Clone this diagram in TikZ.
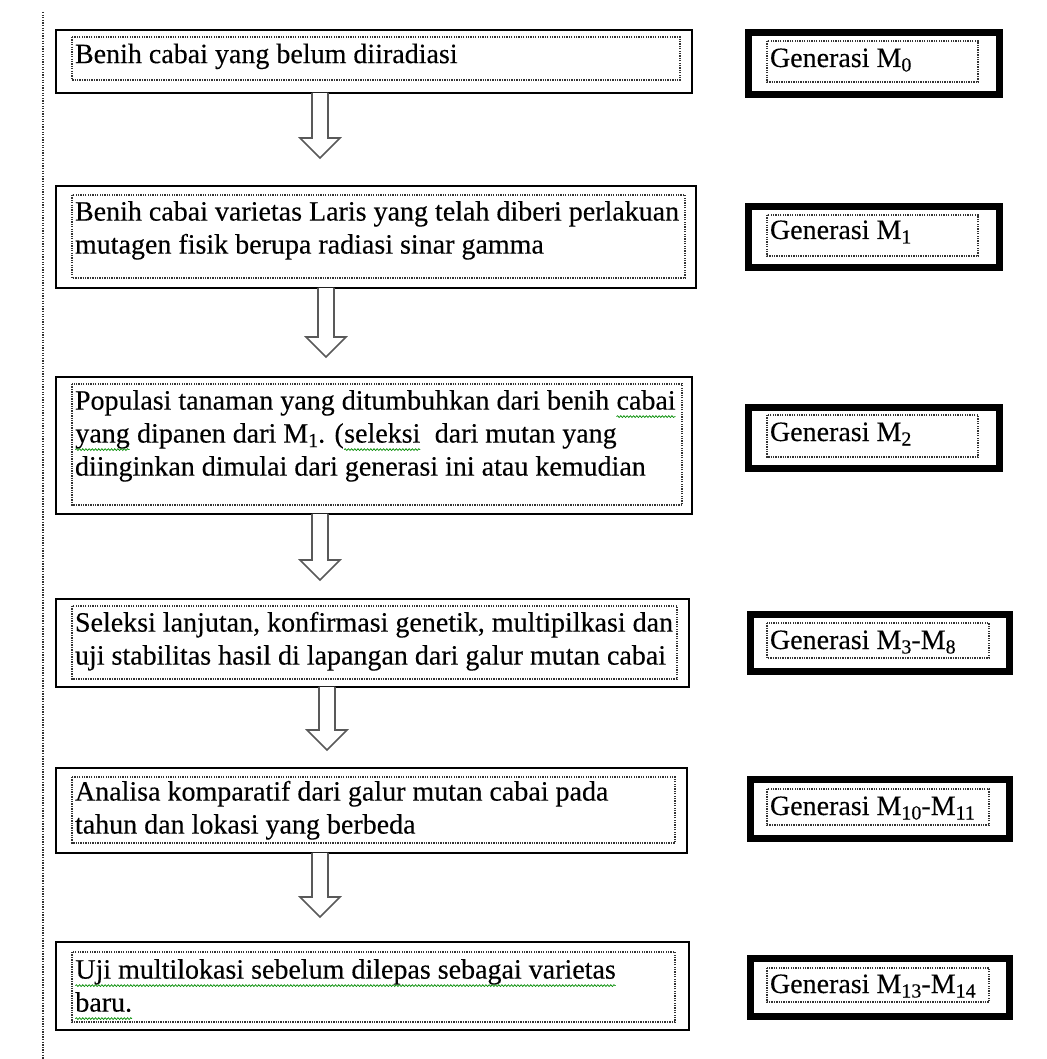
\documentclass[tikz,border=0pt]{standalone}
\usepackage{fontspec}
\setmainfont{Liberation Serif}[FakeBold=0.25]
\usetikzlibrary{calc,shadows,decorations.pathmorphing}

\newcommand\Msb[1]{M\raisebox{-4.5pt}{\fontsize{20}{20}\selectfont #1}}
\newcommand\gw[1]{\tikz[baseline=(w.base)]{\node[inner sep=0pt,outer sep=0pt](w){#1};
  \draw[green!55!black,line width=0.7pt,decorate,decoration={snake,amplitude=0.9pt,segment length=3.2pt}]
  ([yshift=-7pt]w.base west) -- ([yshift=-7pt]w.base east);}}

\tikzset{
  mainbox/.style={draw=black, line width=2.4pt, fill=white, inner sep=0pt, outer sep=0pt,
    drop shadow={shadow xshift=1.5pt, shadow yshift=-1.5pt, fill=gray!70, opacity=0.6}},
  genbox/.style={draw=black, line width=7pt, fill=white, inner sep=0pt, outer sep=0pt,
    drop shadow={shadow xshift=3pt, shadow yshift=-3pt, fill=gray!70, opacity=0.6}},
  dotbox/.style={draw=black!80, line width=1.3pt, dash pattern=on 1.3pt off 1.1pt},
  txt/.style={anchor=north west, inner sep=0pt, outer sep=0pt, align=left,
    font=\fontsize{28}{33}\selectfont},
  gtxt/.style={anchor=base west, inner sep=0pt, outer sep=0pt,
    font=\fontsize{28}{33}\selectfont},
  hollow/.style={draw=black!65, line width=1.6pt, fill=white, line join=miter},
  vline/.style={draw=black!80, line width=1.3pt, dash pattern=on 1.3pt off 1.3pt}
}

\begin{document}
\begin{tikzpicture}[x=1pt,y=-1pt]
\useasboundingbox (0,0) rectangle (1046,1059);

% vertical dotted margin line
\coordinate (vt) at (43,12);
\coordinate (vb) at (43,1059);
\draw[vline] (vt) -- (vb);

% main boxes
\node[mainbox, minimum width=635.6pt, minimum height=62.6pt]  (b1) at (374,61.5) {};
\node[mainbox, minimum width=639.6pt, minimum height=101.6pt] (b2) at (376,237) {};
\node[mainbox, minimum width=635.6pt, minimum height=136.6pt] (b3) at (374,445.5) {};
\node[mainbox, minimum width=632.6pt, minimum height=87.6pt]  (b4) at (372.5,643) {};
\node[mainbox, minimum width=630.6pt, minimum height=84.6pt]  (b5) at (371.5,810.5) {};
\node[mainbox, minimum width=632.6pt, minimum height=87.6pt]  (b6) at (372.5,986) {};

% inner dotted frames
\draw[dotbox] (72,37) rectangle (680,80);
\draw[dotbox] (72,195) rectangle (685,278);
\draw[dotbox] (72,384) rectangle (682,505);
\draw[dotbox] (72,606) rectangle (677,679);
\draw[dotbox] (72,777) rectangle (675,843);
\draw[dotbox] (72,952) rectangle (675,1022);

% texts
\node[txt] (t1) at (75,40) {\strut Benih cabai yang belum diiradiasi};
\node[txt] (t2) at (75,197.5) {\strut Benih cabai varietas Laris yang telah diberi perlakuan\\
  \strut mutagen fisik berupa radiasi sinar gamma};
\node[txt] (t3) at (75,386.5) {\strut Populasi tanaman yang ditumbuhkan dari benih \gw{cabai}\\
  \strut\gw{yang} dipanen dari \Msb{1}. (\gw{seleksi}\ \ dari mutan yang\\
  \strut diinginkan dimulai dari generasi ini atau kemudian};
\node[txt] (t4) at (75,608.5) {\strut Seleksi lanjutan, konfirmasi genetik, multipilkasi dan\\
  \strut uji stabilitas hasil di lapangan dari galur mutan cabai};
\node[txt] (t5) at (75,777.5) {\strut Analisa komparatif dari galur mutan cabai pada\\
  \strut tahun dan lokasi yang berbeda};
\node[txt] (t6) at (75,955.5) {\strut\gw{Uji multilokasi sebelum dilepas sebagai varietas}\\
  \strut\gw{baru.}};

% generasi boxes
\node[genbox, minimum width=251pt, minimum height=62pt] (g0) at (874,63.5) {};
\node[genbox, minimum width=251pt, minimum height=61pt] (g1) at (874,237) {};
\node[genbox, minimum width=251pt, minimum height=61pt] (g2) at (874,438) {};
\node[genbox, minimum width=259pt, minimum height=57pt] (g3) at (880,643) {};
\node[genbox, minimum width=259pt, minimum height=59pt] (g4) at (880,809) {};
\node[genbox, minimum width=259pt, minimum height=58pt] (g5) at (880,987.5) {};

\draw[dotbox] (767,41) rectangle (978,82);
\draw[dotbox] (767,215) rectangle (978,256);
\draw[dotbox] (767,415) rectangle (978,457);
\draw[dotbox] (767,623) rectangle (989,658);
\draw[dotbox] (767,789) rectangle (989,825);
\draw[dotbox] (767,968) rectangle (989,1002);

\node[gtxt] (gt0) at (770,67)  {Generasi \Msb{0}};
\node[gtxt] (gt1) at (770,239) {Generasi \Msb{1}};
\node[gtxt] (gt2) at (770,441) {Generasi \Msb{2}};
\node[gtxt] (gt3) at (770,649) {Generasi \Msb{3}-\Msb{8}};
\node[gtxt] (gt4) at (770,815) {Generasi \Msb{10}-\Msb{11}};
\node[gtxt] (gt5) at (770,993) {Generasi \Msb{13}-\Msb{14}};

% hollow block arrows
\coordinate (a1) at (320,158);
\coordinate (a2) at (326,357);
\coordinate (a3) at (320,580);
\coordinate (a4) at (327,750);
\coordinate (a5) at (320,917);
\foreach \b/\a in {b1/a1,b2/a2,b3/a3,b4/a4,b5/a5}{
  \draw[hollow] ($(\b.south -| \a)+(-8,0)$) -- ($(\a)+(-8,-20)$) -- ($(\a)+(-20,-20)$) -- (\a)
    -- ($(\a)+(20,-20)$) -- ($(\a)+(8,-20)$) -- ($(\b.south -| \a)+(8,0)$);
}
\end{tikzpicture}
\end{document}
